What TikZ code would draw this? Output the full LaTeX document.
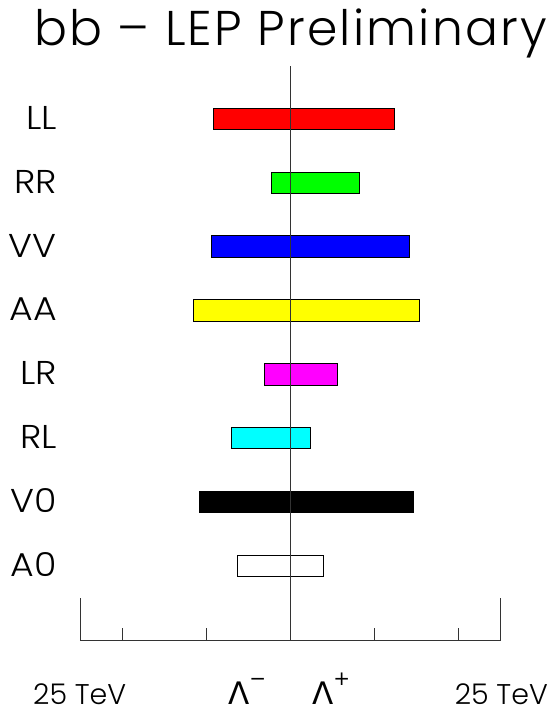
\documentclass[tikz,border=0pt]{standalone}
\usepackage{fontspec}
\setmainfont{Poppins Light}
\newfontfamily\lamfont{DejaVu Sans}
\newfontfamily\titlefont[LetterSpace=4.5]{Poppins Light}
\tikzset{
  bar/.style={draw=black, line width=0.9pt},
  axisline/.style={draw=black!80, line width=1pt},
  rowlabel/.style={anchor=base east, inner sep=0pt, xscale=1.1, font=\fontsize{33}{33}\selectfont},
  scalelabel/.style={inner sep=0pt, font=\fontsize{28.5}{28.5}\selectfont},
  titletext/.style={anchor=base, inner sep=0pt, font=\titlefont\fontsize{48.8}{48.8}\selectfont},
}
\begin{document}
\begin{tikzpicture}[x=1pt,y=-1pt]
\useasboundingbox (0,0) rectangle (558,713);
% title
\node[titletext] (title) at (290.5,45) {bb – LEP Preliminary};
% bars
\draw[bar, fill={rgb,255:red,255;green,0;blue,0}]   (213,108.2) rectangle (394,129.6);
\draw[bar, fill={rgb,255:red,0;green,255;blue,0}]   (271,172.1) rectangle (359,193.5);
\draw[bar, fill={rgb,255:red,0;green,0;blue,255}]   (211,235.9) rectangle (409,257.3);
\draw[bar, fill={rgb,255:red,255;green,255;blue,0}] (193,299.8) rectangle (419,321.2);
\draw[bar, fill={rgb,255:red,255;green,0;blue,255}] (264,363.6) rectangle (337,385.0);
\draw[bar, fill={rgb,255:red,0;green,255;blue,255}] (231,427.5) rectangle (310,448.9);
\draw[bar, fill=black]                               (199,491.4) rectangle (413,512.8);
\draw[bar, fill=white]                               (237,555.2) rectangle (323,576.6);
% row labels
\node[rowlabel] (LL) at (57,129.3) {LL};
\node[rowlabel] (RR) at (57,193.2) {RR};
\node[rowlabel] (VV) at (57,257.0) {VV};
\node[rowlabel] (AA) at (57,320.9) {AA};
\node[rowlabel] (LR) at (57,384.7) {LR};
\node[rowlabel] (RL) at (57,448.6) {RL};
\node[rowlabel] (V0) at (57,512.5) {V0};
\node[rowlabel] (A0) at (57,576.3) {A0};
% axis
\coordinate (top) at (290,66);
\coordinate (zero) at (290,640);
\coordinate (left) at (80,640);
\coordinate (right) at (500,640);
\draw[axisline] (top) -- (zero);
\draw[axisline] (80,598) -- (left) -- (right) -- (500,598);
\foreach \t in {122,206,374,458} \draw[axisline] (\t,628) -- (\t,640);
% scale labels
\node[scalelabel, anchor=base west] (lscale) at (33,704) {25 TeV};
\node[scalelabel, anchor=base east] (rscale) at (548,704) {25 TeV};
\node[scalelabel, anchor=base west] (lamm) at (228,704) {\lamfont\fontsize{31}{31}\selectfont Λ\raisebox{0.6em}{\fontsize{20}{20}\selectfont −}};
\node[scalelabel, anchor=base west] (lamp) at (312,704) {\lamfont\fontsize{31}{31}\selectfont Λ\raisebox{0.6em}{\fontsize{20}{20}\selectfont +}};
\end{tikzpicture}
\end{document}
